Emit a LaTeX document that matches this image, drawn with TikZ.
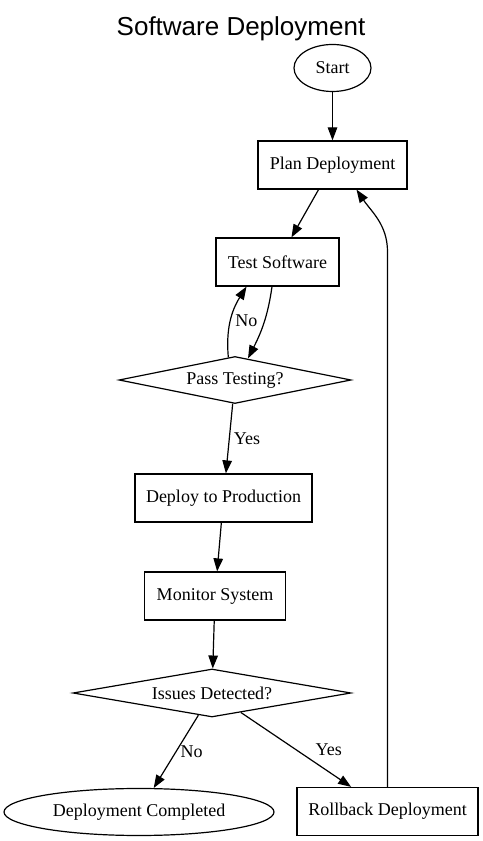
\documentclass[tikz,border=0pt]{standalone}
\usepackage{fontspec}
\setmainfont{Liberation Serif}
\newfontfamily\titlefont{Liberation Sans}
\usetikzlibrary{shapes.geometric,arrows.meta}

\begin{document}
\begin{tikzpicture}[x=1bp, y=1bp,
		every node/.style={font=\fontsize{18bp}{21bp}\selectfont},
		process/.style={draw, rectangle, line width=1.2bp, minimum height=48bp, minimum width=#1},
		decision/.style={draw, diamond, aspect=5, inner sep=0pt, line width=1.2bp, minimum height=48bp, minimum width=#1},
		terminal/.style={draw, ellipse, inner sep=0pt, line width=1.2bp, minimum height=47bp, minimum width=#1},
		flow/.style={line width=1.2bp, -{Triangle[length=13bp, width=9.5bp]}},
		edgelabel/.style={inner sep=4bp},
		]

		\useasboundingbox (0,0) rectangle (483,841);

		\node[font=\titlefont\fontsize{26bp}{30bp}\selectfont] (title) at (241,812) {Software Deployment};

		\node[terminal=77bp]  (start)    at (332.5,773) {Start};
		\node[process=149bp]  (plan)     at (332.5,676) {Plan Deployment};
		\node[process=123bp]  (test)     at (277.5,579) {Test Software};
		\node[decision=232bp, minimum height=47bp] (pass) at (235,461) {Pass Testing?};
		\node[process=177bp]  (deploy)   at (223.5,343) {Deploy to Production};
		\node[process=141bp]  (monitor)  at (215,245) {Monitor System};
		\node[decision=278bp] (issues)   at (212,148) {Issues Detected?};
		\node[terminal=270bp] (done)     at (139,29) {Deployment Completed};
		\node[process=181bp]  (rollback) at (387.5,29.5) {Rollback Deployment};

		% flow
		\draw[flow] (start) -- (plan);
		\draw[flow] (plan) -- (test);
		\draw[flow] ([xshift=-5.5bp]test.south) to[out=-98, in=63] ([xshift=13bp, yshift=-2.5bp]pass.north);
		\draw[flow] ([xshift=-6.7bp, yshift=-1.4bp]pass.north) to[out=95, in=238]
		node[edgelabel, right] {No} ([xshift=-31bp]test.south);
		\draw[flow] (pass) -- node[edgelabel, right] {Yes} (deploy);
		\draw[flow] (deploy) -- (monitor);
		\draw[flow] (monitor) -- (issues);
		\draw[flow] (issues) -- node[edgelabel, right] {No} (done);
		\draw[flow] (issues) -- node[edgelabel, right, xshift=15bp] {Yes} (rollback);

		% rollback loop
		\draw[flow] (rollback.north) -- ++(0,535) to[out=90, in=-56] ([xshift=24bp]plan.south);

	\end{tikzpicture}
\end{document}
